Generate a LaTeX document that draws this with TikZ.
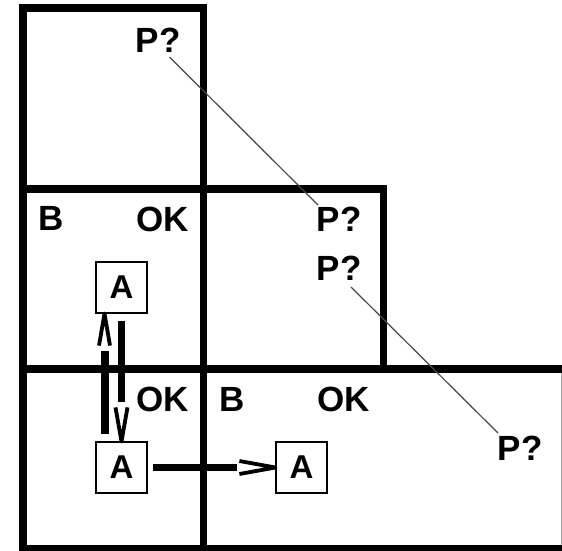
\documentclass[tikz,border=0pt]{standalone}
\usepackage{fontspec}
\setmainfont{Liberation Sans}
\usetikzlibrary{calc}
\begin{document}
\begin{tikzpicture}[x=1pt,y=-1pt,
  lbl/.style={font=\fontsize{35}{42}\selectfont\bfseries, inner sep=0pt, anchor=base west},
  abox/.style={draw, line width=1.2pt, minimum size=51pt, inner sep=0pt, font=\fontsize{33}{40}\selectfont\bfseries},
  gridline/.style={line width=7.5pt, line join=miter},
  shaft/.style={line width=7.5pt},
  head/.style={line width=3.8pt, line join=round},
  ray/.style={line width=1.2pt, draw=black!72}]
\useasboundingbox (0,0) rectangle (562,550);
\fill[white] (0,0) rectangle (562,550);
\clip (0,0) rectangle (562,550);
% grid
\draw[gridline] (23,8) rectangle (203.5,189);
\draw[gridline] (23,189) rectangle (383.5,369);
\draw[gridline] (23,369) rectangle (566.5,549);
\draw[gridline] (203.5,189) -- (203.5,549);
\draw[line width=0.8pt, black!35] (561.2,373) -- (561.2,545);
% labels
\node[lbl] (P1) at (135.5,52) {P?};
\node[lbl] (B2) at (38,230) {B};
\node[lbl] (OK2) at (136.5,231) {OK};
\node[lbl] (P2) at (316.5,231) {P?};
\node[lbl] (P3) at (316.5,280) {P?};
\node[lbl] (OK3a) at (136.5,411) {OK};
\node[lbl] (B3) at (219,411) {B};
\node[lbl] (OK3b) at (317.5,411) {OK};
\node[lbl] (P4) at (497.5,460) {P?};
% boxes
\node[abox] (A1) at (121.5,287.5) {A};
\node[abox] (A2) at (121.5,467.5) {A};
\node[abox] (A3) at (301.5,467.5) {A};
% rays
\draw[ray] ($(P1.base west)+(34,5)$) -- ($(P2.base west)+(1.5,-26)$);
\draw[ray] ($(P3.base west)+(34.5,7)$) -- ($(P4.base west)+(0.5,-27)$);
% up arrow A2 -> A1
\coordinate (tU) at ($(A1.south)+(-17,0)$);
\draw[shaft] ($(A2.north)+(-16.5,-7)$) -- ($(A1.south)+(-16.5,37)$);
\draw[head] ($(tU)+(-5.5,32)$) -- (tU) -- ($(tU)+(5.5,32)$);
% down arrow A1 -> A2
\coordinate (tD) at (A2.north);
\draw[shaft] ($(A1.south)+(0,7)$) -- ($(A2.north)+(0,-39)$);
\draw[head] ($(tD)+(-6,-34)$) -- (tD) -- ($(tD)+(6,-34)$);
% right arrow A2 -> A3
\coordinate (tR) at (A3.west);
\draw[shaft] ($(A2.east)+(5.5,0)$) -- ($(A3.west)+(-38,0)$);
\draw[head] ($(tR)+(-36,-6.5)$) -- (tR) -- ($(tR)+(-36,6.5)$);
\end{tikzpicture}
\end{document}
